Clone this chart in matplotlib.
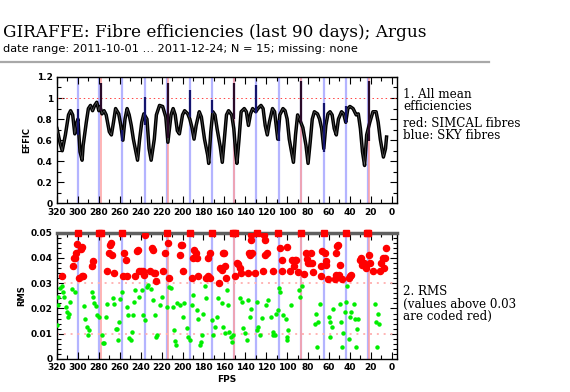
import numpy as np
import matplotlib
matplotlib.use('Agg')
import matplotlib.pyplot as plt
from matplotlib.ticker import MultipleLocator, FuncFormatter
from matplotlib.lines import Line2D

# mean efficiency curve
eff_fps = [320, 317, 315, 312, 309, 307, 305, 303, 301, 300, 298, 296, 295, 292, 290,
           288, 286, 284, 282, 280, 279, 277, 275, 273, 270, 268, 266, 264, 261, 259,
           257, 255, 253, 251, 249, 247, 243, 241, 239, 237, 234, 232, 230, 227, 225,
           222, 219, 216, 214, 211, 209, 207, 205, 203, 200, 198, 195, 193, 191, 189,
           187, 184, 182, 179, 176, 175, 173, 171, 169, 167, 164, 162, 160, 158, 156,
           153, 151, 149, 148, 146, 144, 141, 139, 137, 135, 133, 130, 128, 125, 123,
           121, 119, 117, 114, 112, 109, 107, 104, 102, 100, 98, 94, 92, 90, 87,
           85, 82, 80, 78, 76, 74, 71, 69, 67, 65, 63, 61, 59, 57, 55,
           53, 51, 48, 46, 44, 42, 40, 37, 34, 32, 30, 28, 26, 24, 21,
           18, 15, 13, 11, 8, 6, 5]
eff_val = [0.71, 0.57, 0.50, 0.65, 0.84, 0.88, 0.84, 0.66, 0.77, 0.80, 0.49, 0.41, 0.55, 0.77, 0.90,
           0.93, 0.88, 0.93, 0.96, 0.88, 0.92, 0.85, 0.88, 0.84, 0.68, 0.65, 0.77, 0.90, 0.85, 0.74,
           0.60, 0.80, 0.90, 0.84, 0.74, 0.61, 0.41, 0.61, 0.77, 0.85, 0.80, 0.52, 0.41, 0.61, 0.84,
           0.93, 0.92, 0.82, 0.58, 0.84, 0.90, 0.84, 0.69, 0.66, 0.84, 0.88, 0.85, 0.80, 0.72, 0.61,
           0.74, 0.87, 0.82, 0.61, 0.46, 0.38, 0.68, 0.87, 0.84, 0.71, 0.54, 0.39, 0.61, 0.84, 0.88,
           0.84, 0.71, 0.46, 0.38, 0.61, 0.87, 0.90, 0.87, 0.74, 0.85, 0.90, 0.87, 0.90, 0.93, 0.90,
           0.74, 0.65, 0.77, 0.90, 0.87, 0.61, 0.84, 0.90, 0.88, 0.80, 0.61, 0.39, 0.65, 0.84, 0.77,
           0.72, 0.55, 0.38, 0.58, 0.80, 0.87, 0.85, 0.80, 0.71, 0.52, 0.74, 0.85, 0.87, 0.84, 0.71,
           0.65, 0.80, 0.87, 0.85, 0.77, 0.90, 0.92, 0.90, 0.84, 0.85, 0.71, 0.49, 0.36, 0.65, 0.77,
           0.87, 0.87, 0.77, 0.61, 0.44, 0.52, 0.63]

# special fibres
sky_fps = [300, 279.4, 257.5, 236, 215, 193, 172, 151, 129.5, 108, 87, 65, 44, 23]
simcal_fps = [277.7, 214.3, 150.5, 86.3, 21.7]

# spread of the efficiency at special fibres (lo, hi)
sky_spike_fps = [300, 257.5, 236, 193, 172, 129.5, 108, 65, 44]
sky_spike_lo = [0.65, 0.59, 0.74, 0.82, 0.86, 0.86, 0.59, 0.49, 0.76]
sky_spike_hi = [0.90, 0.70, 1.01, 1.08, 0.98, 1.12, 0.79, 0.95, 0.92]
cal_spike_lo = [0.88, 0.62, 0.80, 0.76, 0.59]
cal_spike_hi = [1.14, 1.14, 1.14, 1.16, 1.16]

# RMS above 0.03 (coded red), 0.05 = clipped
hi_fps = [315.5, 301.2, 300.3, 301.9, 302.8, 304.0, 305.0, 298.7, 297.4, 296.5, 294.8, 296.0,
          279.5, 278.0, 286.9, 285.3,
          272.0, 270.0, 269.4, 268.4, 267.8, 265.6,
          258.2, 256.6, 256.0, 254.0, 252.8,
          245.5, 243.3, 242.3, 241.4, 239.5, 238.0, 236.5, 235.5,
          231.2, 229.6, 228.5, 227.4, 226.0, 225.5,
          218.4, 216.8, 215.0, 213.7, 213.0,
          202.5, 201.6, 200.5, 199.3,
          193.0, 191.4, 189.8, 188.8, 187.6, 186.6, 185.6,
          177.1, 175.5, 173.9, 172.3, 175.2, 174.0,
          165.3, 164.3, 162.7, 161.8, 160.2, 159.5, 158.0,
          151.6, 150.2, 149.4, 148.4, 146.8, 145.2, 144.3,
          137.3, 136.3, 135.5, 135.0, 134.1, 133.4, 130.9, 129.3,
          123.0, 122.0, 121.2, 121.4, 119.7, 113.4, 108.6,
          107.2, 105.4, 104.8,
          100.6, 97.4, 94.9, 92.7, 91.7, 93.6, 89.5,
          86.3, 84.1, 82.2, 81.5, 79.9, 78.5, 76.8, 75.8, 75.2,
          67.8, 67.2, 66.3, 65.0, 64.0, 63.1, 62.4, 60.8,
          54.5, 53.5, 52.9, 52.2, 51.3, 50.3, 49.7, 47.1,
          44.0, 40.8, 39.5, 38.6,
          30.6, 29.6, 28.1, 26.8, 25.8, 24.8, 23.6, 22.3, 21.7, 20.4, 17.9,
          11.6, 10.1, 8.4, 6.8, 5.2, 7.7]
hi_rms = [0.033, 0.0457, 0.050, 0.042, 0.040, 0.040, 0.037, 0.032, 0.0437, 0.0443, 0.033, 0.033,
          0.050, 0.050, 0.037, 0.0388,
          0.035, 0.042, 0.045, 0.046, 0.041, 0.034,
          0.050, 0.033, 0.042, 0.039, 0.033,
          0.033, 0.0426, 0.043, 0.035, 0.035, 0.035, 0.0334, 0.049,
          0.035, 0.044, 0.0433, 0.034, 0.034, 0.0307,
          0.035, 0.042, 0.050, 0.046, 0.032,
          0.041, 0.045, 0.045, 0.035,
          0.050, 0.032, 0.040, 0.043, 0.042, 0.040, 0.033,
          0.032, 0.033, 0.032, 0.050, 0.040, 0.042,
          0.030, 0.036, 0.0354, 0.042, 0.042, 0.0367, 0.032,
          0.050, 0.050, 0.033, 0.038, 0.0376, 0.036, 0.034,
          0.034, 0.042, 0.041, 0.047, 0.049, 0.042, 0.034, 0.050,
          0.035, 0.049, 0.047, 0.041, 0.042, 0.035, 0.050,
          0.044, 0.039, 0.035,
          0.0445, 0.035, 0.039, 0.039, 0.039, 0.037, 0.0345,
          0.050, 0.0336, 0.042, 0.0397, 0.038, 0.038, 0.042, 0.038, 0.0345,
          0.0327, 0.037, 0.0429, 0.050, 0.042, 0.0388, 0.0373, 0.0318,
          0.0318, 0.0334, 0.042, 0.0446, 0.0453, 0.0334, 0.0373, 0.0318,
          0.050, 0.032, 0.033, 0.0334,
          0.0393, 0.040, 0.0373, 0.038, 0.0367, 0.036, 0.050, 0.050, 0.0413, 0.038, 0.0347,
          0.0347, 0.038, 0.040, 0.040, 0.044, 0.036]

# RMS below 0.03 (green)
lo_fps = [318.7, 319.4, 320.0, 317.1, 315.5, 314.0, 313.0, 311.7, 310.8, 309.2, 308.2, 307.6, 306.0,
          302.8, 294.2, 293.3, 291.7, 290.1, 289.1, 286.9, 285.9, 284.6, 282.7, 281.5, 279.9,
          277.3, 275.7, 274.8, 273.2, 272.0, 266.2, 265.2, 264.0, 262.4, 261.4, 260.8, 259.8,
          258.2, 253.5, 251.9, 251.0, 249.6, 248.7, 247.1, 246.5, 245.5, 241.7, 239.1, 237.5,
          236.0, 234.4, 232.8, 230.2, 228.0, 226.4, 225.4, 224.2, 221.6, 220.0, 214.6, 212.7,
          211.4, 209.5, 208.2, 207.3, 206.3, 205.7, 202.5, 200.0, 198.7, 195.5, 194.6, 193.0,
          191.4, 189.8, 186.0, 185.0, 183.4, 182.5, 181.8, 180.2, 178.6, 177.7, 172.3, 170.7,
          169.1, 167.5, 165.9, 162.7, 161.1, 159.5, 155.4, 154.1, 153.2, 151.6, 157.3, 156.3,
          145.2, 143.6, 142.0, 140.4, 138.8, 137.3, 135.7, 134.1, 129.3, 128.7, 127.7, 126.1,
          124.5, 119.8, 118.2, 115.0, 114.0, 113.4, 111.8, 110.2, 108.6, 107.6, 106.4, 103.8,
          101.3, 100.6, 99.7, 99.0, 95.9, 88.9, 87.9,
          85.4, 72.6, 73.6, 70.4, 71.4, 68.8, 59.9, 58.6, 56.7, 58.6, 56.1, 49.7, 48.1, 46.5,
          47.2, 45.0, 43.3, 42.7, 40.8, 39.5, 39.2, 36.3, 35.4, 33.8, 32.2, 33.1, 16.3, 15.3,
          14.1, 13.1, 12.1]
lo_rms = [0.0247, 0.0214, 0.0135, 0.0280, 0.0290, 0.0267, 0.0244, 0.0205, 0.0187, 0.0165, 0.0178, 0.0227, 0.0276,
          0.0267, 0.0210, 0.0157, 0.0125, 0.0095, 0.0115, 0.0267, 0.0247, 0.0220, 0.0210, 0.0174, 0.0168,
          0.0095, 0.0065, 0.0065, 0.0168, 0.0218, 0.0240, 0.0218, 0.0117, 0.0117, 0.0075, 0.0148, 0.0236,
          0.0267, 0.0205, 0.0174, 0.0082, 0.0075, 0.0106, 0.0174, 0.0227, 0.0273, 0.0247, 0.0273, 0.0174,
          0.0154, 0.0286, 0.0293, 0.0276, 0.0234, 0.0174, 0.0088, 0.0095, 0.0214, 0.0244, 0.0205, 0.0286,
          0.0280, 0.0205, 0.0115, 0.0073, 0.0055, 0.0220, 0.0214, 0.0165, 0.0220, 0.0121, 0.0088, 0.0075,
          0.0214, 0.0253, 0.0194, 0.0157, 0.0055, 0.0069, 0.0095, 0.0178, 0.0289, 0.0240, 0.0154, 0.0095,
          0.0125, 0.0168, 0.0240, 0.0220, 0.0125, 0.0102, 0.0108, 0.0088, 0.0069, 0.0095, 0.0273, 0.0214,
          0.0240, 0.0227, 0.0121, 0.0102, 0.0075, 0.0234, 0.0168, 0.0197, 0.0227, 0.0115, 0.0125, 0.0095,
          0.0161, 0.0214, 0.0234, 0.0165, 0.0108, 0.0095, 0.0095, 0.0178, 0.0194, 0.0280, 0.0267, 0.0174,
          0.0157, 0.0075, 0.0088, 0.0115, 0.0214, 0.0273, 0.0247,
          0.0289, 0.0178, 0.0139, 0.0148, 0.0049, 0.0218, 0.0168, 0.0148, 0.0128, 0.0088, 0.0197, 0.0218, 0.0148, 0.0104,
          0.0049, 0.0187, 0.0227, 0.0289, 0.0078, 0.0168, 0.0187, 0.0218, 0.0157, 0.0049, 0.0157, 0.0117, 0.0218, 0.0148,
          0.0046, 0.0178, 0.0139]

SKY_C = '#b4b4ff'
CAL_C = '#ffa0a0'

fig = plt.figure(figsize=(5.70, 3.92), dpi=100)
ax0 = fig.add_axes([0.1, 0.481, 0.5965, 0.3227])
ax1 = fig.add_axes([0.1, 0.0842, 0.5965, 0.3222])

for ax in (ax0, ax1):
    for xx in sky_fps:
        ax.axvline(xx, color=SKY_C, lw=1.6, zorder=1)
    for xx in simcal_fps:
        ax.axvline(xx, color=CAL_C, lw=1.1, zorder=1)

# top panel
ax0.axhline(1.0, color='#ff4040', lw=0.7, ls=(0, (1.5, 3)), zorder=2)
ax0.plot(eff_fps, eff_val, color='black', lw=2.5, zorder=3, solid_joinstyle='round')
ax0.plot(eff_fps, eff_val, color='white', lw=0.4, alpha=0.4, zorder=4)
ax0.vlines(sky_spike_fps, sky_spike_lo, sky_spike_hi, color='#14146e', lw=1.6, zorder=5)
ax0.vlines(simcal_fps, cal_spike_lo, cal_spike_hi, color='#2a0a28', lw=1.6, zorder=5)

# bottom panel
hi_fps = np.array(hi_fps)
hi_rms = np.array(hi_rms)
clip = hi_rms >= 0.05
ax1.axhline(0.03, color='#ffb4b4', lw=1.4, ls=(0, (1, 2.5)), zorder=2)
ax1.axhline(0.01, color='#ffb4b4', lw=1.4, ls=(0, (1, 2.5)), zorder=2)
ax1.plot(hi_fps[~clip], hi_rms[~clip], lw=0, marker='o', markersize=4.4, color='#ff0000', zorder=4)
ax1.plot(hi_fps[clip], hi_rms[clip], lw=0, marker='s', markersize=4.4, color='#ff0000', zorder=6,
         clip_on=False)
ax1.plot(lo_fps, lo_rms, lw=0, marker='o', markersize=2.2, color='#00ee00', zorder=4)

ax0.set_xlim(320, -5)
ax1.set_xlim(320, -5)
ax0.set_ylim(0, 1.2)
ax1.set_ylim(0, 0.05)

fmt = FuncFormatter(lambda v, p: f'{v:g}')
for ax in (ax0, ax1):
    ax.xaxis.set_major_locator(MultipleLocator(20))
    ax.xaxis.set_minor_locator(MultipleLocator(10))
    ax.yaxis.set_major_formatter(fmt)
    ax.tick_params(which='both', direction='in', top=True, right=True, width=0.8)
    ax.tick_params(which='major', length=5, labelsize=6.5, pad=3)
    ax.tick_params(which='minor', length=3)
    for lab in ax.get_xticklabels() + ax.get_yticklabels():
        lab.set_fontweight('bold')
    for sp in ax.spines.values():
        sp.set_linewidth(1.0)
ax0.yaxis.set_major_locator(MultipleLocator(0.2))
ax0.yaxis.set_minor_locator(MultipleLocator(0.1))
ax1.yaxis.set_major_locator(MultipleLocator(0.01))
ax1.yaxis.set_minor_locator(MultipleLocator(0.002))
ax1.spines['top'].set_linewidth(2.5)
ax1.spines['top'].set_color('#606060')

ax0.set_ylabel('EFFIC', fontsize=6, fontweight='bold', labelpad=4)
ax1.set_ylabel('RMS', fontsize=6, fontweight='bold', labelpad=3)
ax1.set_xlabel('FPS', fontsize=6.5, fontweight='bold', labelpad=2)

fig.text(0.005, 0.916, 'GIRAFFE: Fibre efficiencies (last 90 days); Argus',
         family='DejaVu Serif', fontsize=12.2, va='center', ha='left')
fig.text(0.005, 0.876, 'date range: 2011-10-01 \u2026 2011-12-24; N = 15; missing: none',
         family='DejaVu Sans', fontsize=8.2, va='center', ha='left')
fig.add_artist(Line2D([0, 0.858], [0.842, 0.842], transform=fig.transFigure,
                      color='#a8a8a8', lw=1.6))

fig.text(0.707, 0.776, '1. All mean\nefficiencies', family='DejaVu Serif',
         fontsize=8.6, va='top', ha='left', linespacing=0.92)
fig.text(0.707, 0.702, 'red: SIMCAL fibres\nblue: SKY fibres', family='DejaVu Serif',
         fontsize=8.6, va='top', ha='left', linespacing=0.92)
fig.text(0.707, 0.272, '2. RMS\n(values above 0.03\nare coded red)', family='DejaVu Serif',
         fontsize=8.6, va='top', ha='left', linespacing=0.92)

fig.savefig('out.png', dpi=100)
